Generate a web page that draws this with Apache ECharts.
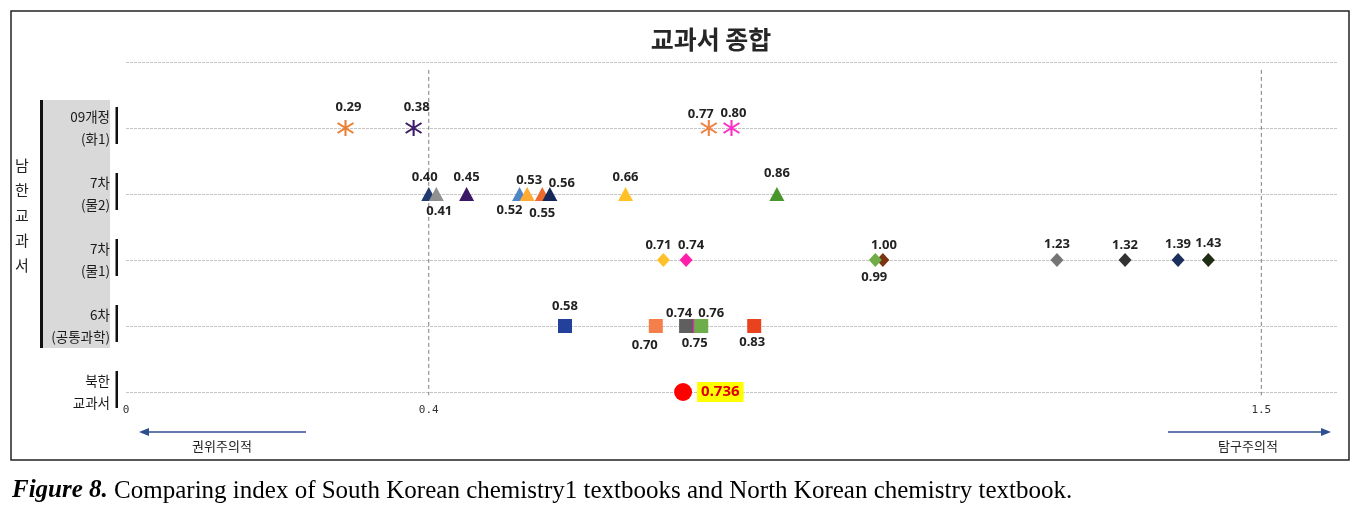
<!DOCTYPE html>
<html><head><meta charset="utf-8">
<script src="https://cdn.jsdelivr.net/npm/echarts@6/dist/echarts.min.js"></script>
<style>html,body{margin:0;padding:0;background:#fff}#c{width:1368px;height:508px}</style>
</head><body><div id="c"></div>
<script>
// ---------- data ----------
const chartTitle = '교과서 종합';
const rowLabels = ['북한\n교과서', '6차\n(공통과학)', '7차\n(물1)', '7차\n(물2)', '09개정\n(화1)'];
const groupLabel = '남한교과서';
const xTickLabels = [0, 0.4, 1.5];
const refLines = [0.4, 1.5];
const leftArrowText = '권위주의적';
const rightArrowText = '탐구주의적';

const row09Values  = [0.29, 0.38, 0.77, 0.80];
const row7b2Values = [0.40, 0.41, 0.45, 0.52, 0.53, 0.55, 0.56, 0.66, 0.86];
const row7b1Values = [0.71, 0.74, 1.00, 0.99, 1.23, 1.32, 1.39, 1.43];
const row6Values   = [0.58, 0.70, 0.75, 0.74, 0.76, 0.83];
const northValues  = [0.736];

// ---------- styles ----------
const row09Colors  = ['#ED7D31', '#3D1C6B', '#F08040', '#FF2EC4'];
const row7b2Colors = ['#1F3A6E', '#909090', '#3B1768', '#4F86C6', '#FFAA33', '#EE6A2C', '#16275A', '#FFC125', '#48962E'];
const row7b1Colors = ['#FFC02A', '#FF1FAA', '#7A3510', '#70AD47', '#757575', '#333333', '#1A2F5C', '#1F2D12'];
const row6Colors   = ['#23409A', '#F47F4A', '#FF22B5', '#5F5F5F', '#6DAE4A', '#E8431E'];

const row09Offsets  = [[3,-21],[3,-21],[-8,-14],[2,-15]];
const row7b2Offsets = [[-4,-17],[3,17],[0,-17],[-10,16],[2,-14],[0,19],[12,-11],[0,-17],[0,-21]];
const row7b1Offsets = [[-5,-15],[5,-15],[1,-15],[-1,17],[0,-16],[0,-15],[0,-16],[0,-17]];
const row6Offsets   = [[0,-20],[-11,19],[1,17],[-7,-13],[10,-13],[-2,16]];

const ASTERISK = 'path://M-1.1,-10L1.1,-10L1.1,10L-1.1,10Z M-9,-5.4L-7.8,-7.2L9,5.4L7.8,7.2Z M-9,5.4L7.8,-7.2L9,-5.4L-7.8,7.2Z';
const numFont = "'Noto Sans','Noto Sans CJK KR',sans-serif";
const krFont = "'Noto Sans CJK KR','Noto Sans',sans-serif";

const series = [];
refLines.forEach(x => {
  series.push({
    type: 'line', silent: true, animation: false, clip: false, symbol: 'none',
    data: [[x, 4.88], [x, -0.05]],
    lineStyle: { type: [4, 3], color: '#7f7f7f', width: 1 }, z: 1
  });
});
function addRow(rowIndex, values, colors, offsets, symbol, size) {
  values.forEach((v, i) => {
    series.push({
      type: 'scatter', silent: true, animation: false, z: 3,
      data: [[v, rowIndex]], symbol: symbol, symbolSize: size,
      itemStyle: { color: colors[i], opacity: 1, borderWidth: 0 },
      label: { show: true, position: 'inside', offset: offsets[i], formatter: () => v.toFixed(2),
        color: '#222', fontWeight: 'bold', fontSize: 13, fontFamily: numFont, textBorderWidth: 0 }
    });
  });
}
addRow(4, row09Values, row09Colors, row09Offsets, ASTERISK, [17, 16]);
addRow(3, row7b2Values, row7b2Colors, row7b2Offsets, 'triangle', [15, 14]);
addRow(2, row7b1Values, row7b1Colors, row7b1Offsets, 'diamond', [13, 14]);
addRow(1, row6Values, row6Colors, row6Offsets, 'rect', 14);
series.push({
  type: 'scatter', silent: true, animation: false, z: 3,
  data: northValues.map(v => [v, 0]), symbol: 'circle', symbolSize: 18,
  itemStyle: { color: '#FF0000', opacity: 1 },
  label: { show: true, position: 'right', distance: 5, formatter: p => p.value[0].toFixed(3),
    color: '#E00000', fontWeight: 'bold', fontSize: 15, fontFamily: numFont,
    backgroundColor: '#FFFF00', padding: [3, 4, 2, 4], textBorderWidth: 0 }
});

const chart = echarts.init(document.getElementById('c'), null, { renderer: 'canvas' });
chart.setOption({
  animation: false,
  backgroundColor: '#fff',
  grid: { left: 126, right: 31, top: 62, bottom: 116, containLabel: false },
  xAxis: {
    type: 'value', min: 0, max: 1.6, interval: 0.1,
    axisLine: { show: false }, axisTick: { show: false }, splitLine: { show: false },
    axisLabel: {
      margin: 13, fontSize: 11, color: '#333', fontFamily: "'DejaVu Sans Mono',monospace",
      formatter: v => {
        const hit = xTickLabels.find(t => Math.abs(t - v) < 1e-6);
        return hit === undefined ? '' : String(hit);
      }
    }
  },
  yAxis: {
    type: 'value', min: 0, max: 5, interval: 1,
    axisLine: { show: false }, axisTick: { show: false },
    splitLine: { show: true, lineStyle: { color: '#c4c4c4', type: [3, 1], width: 1 } },
    axisLabel: {
      margin: 16, fontSize: 13.5, color: '#1a1a1a', fontFamily: krFont, lineHeight: 22, align: 'right',
      padding: [0, 0, 6, 0],
      formatter: v => (v >= 0 && v < rowLabels.length && Number.isInteger(v)) ? rowLabels[v] : ''
    }
  },
  series: series
});

function buildGraphics() {
  const g = [];
  g.push({ type: 'rect', shape: { x: 11, y: 11, width: 1338, height: 449 }, style: { fill: 'none', stroke: '#222', lineWidth: 1.5 }, silent: true, z: 100 });
  g.push({ type: 'text', x: 711, y: 39, style: { text: chartTitle, align: 'center', verticalAlign: 'middle', font: "bold 25px 'Noto Sans CJK KR'", fill: '#262626' }, silent: true });
  const y09 = chart.convertToPixel({ yAxisIndex: 0 }, 4);
  const y6 = chart.convertToPixel({ yAxisIndex: 0 }, 1);
  g.push({ type: 'rect', shape: { x: 42, y: y09 - 28, width: 68, height: (y6 - y09) + 50 }, style: { fill: '#d9d9d9' }, silent: true, z: -1 });
  g.push({ type: 'rect', shape: { x: 40, y: y09 - 28, width: 3, height: (y6 - y09) + 50 }, style: { fill: '#111' }, silent: true });
  rowLabels.forEach((lab, i) => {
    const py = chart.convertToPixel({ yAxisIndex: 0 }, i);
    g.push({ type: 'rect', shape: { x: 115.5, y: py - 21, width: 2.5, height: 37 }, style: { fill: '#111' }, silent: true });
  });
  g.push({ type: 'text', x: 22, y: 215, style: { text: groupLabel.split('').join('\n'), align: 'center', verticalAlign: 'middle', font: "15px 'Noto Sans CJK KR'", lineHeight: 25, fill: '#222' }, silent: true });
  const arrowColor = '#2E4F8F';
  g.push({ type: 'line', shape: { x1: 306, y1: 432, x2: 146, y2: 432 }, style: { stroke: arrowColor, lineWidth: 1.3 }, silent: true });
  g.push({ type: 'polygon', shape: { points: [[139, 432], [149, 428], [149, 436]] }, style: { fill: arrowColor }, silent: true });
  g.push({ type: 'line', shape: { x1: 1168, y1: 432, x2: 1324, y2: 432 }, style: { stroke: arrowColor, lineWidth: 1.3 }, silent: true });
  g.push({ type: 'polygon', shape: { points: [[1331, 432], [1321, 428], [1321, 436]] }, style: { fill: arrowColor }, silent: true });
  g.push({ type: 'text', x: 222, y: 446, style: { text: leftArrowText, align: 'center', verticalAlign: 'middle', font: "13px 'Noto Sans CJK KR'", fill: '#222' }, silent: true });
  g.push({ type: 'text', x: 1248, y: 446, style: { text: rightArrowText, align: 'center', verticalAlign: 'middle', font: "13px 'Noto Sans CJK KR'", fill: '#222' }, silent: true });
  g.push({ type: 'text', x: 12, y: 491, style: {
    text: '{b|Figure 8.}{r| Comparing index of South Korean chemistry1 textbooks and North Korean chemistry textbook.}',
    verticalAlign: 'middle', align: 'left',
    rich: {
      b: { fontFamily: "'Liberation Serif',serif", fontSize: 25, fontWeight: 'bold', fontStyle: 'italic', fill: '#000' },
      r: { fontFamily: "'Liberation Serif',serif", fontSize: 25, fill: '#000' }
    } }, silent: true });
  return g;
}
chart.setOption({ graphic: { elements: buildGraphics() } });
</script>
</body></html>
